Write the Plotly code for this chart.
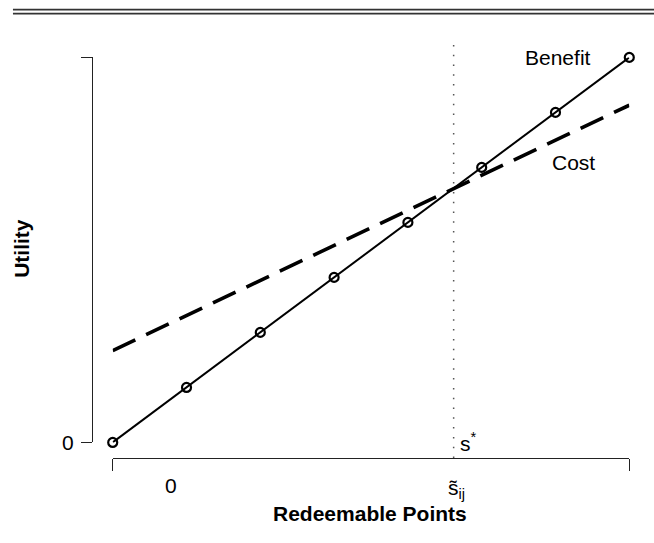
import plotly.graph_objects as go

# ---- data ----
points_x = [0, 1, 2, 3, 4, 5, 6, 7]
benefit = [0, 1, 2, 3, 4, 5, 6, 7]
cost_x = [0, 7]
cost = [1.67, 6.13]
s_star = 4.62
x_ticks = [0, 7]
y_ticks = [0, 7]
y_ticktext = ["0", ""]

FONT = "Liberation Sans, Arial, Helvetica, sans-serif"
W, H = 654, 543
L, R, T, B = 92, 4.3, 41.9, 84.7
pw = W - L - R
ph = H - T - B

def px2paper_x(px):
    return (px - L) / pw

def px2paper_y(py):
    return (H - B - py) / ph

xdom = [px2paper_x(112.7), px2paper_x(629.0)]
ydom = [px2paper_y(442.7), px2paper_y(57.3)]

fig = go.Figure()

fig.add_trace(go.Scatter(
    x=cost_x, y=cost, mode="lines",
    line=dict(color="black", width=3.6, dash="25px,12px"),
    cliponaxis=False, showlegend=False, hoverinfo="skip"))

fig.add_trace(go.Scatter(
    x=points_x, y=benefit, mode="lines+markers",
    line=dict(color="black", width=2),
    marker=dict(symbol="circle-open", size=9, color="black",
                line=dict(width=2.2, color="black")),
    cliponaxis=False, showlegend=False, hoverinfo="skip"))

# vertical dotted line at s*
fig.add_shape(type="line", xref="x", yref="paper",
              x0=s_star, x1=s_star, y0=0, y1=1,
              line=dict(color="#555555", width=1.5, dash="1.5px,8.3px"))

# top double rule
for ypx in (9.5, 13.5):
    fig.add_shape(type="line", xref="paper", yref="paper",
                  x0=px2paper_x(13), x1=px2paper_x(656),
                  y0=px2paper_y(ypx), y1=px2paper_y(ypx),
                  line=dict(color="#333333", width=1.6))

ann = [
    dict(text="Benefit", x=px2paper_x(558), y=px2paper_y(57), xref="paper", yref="paper",
         font=dict(size=21)),
    dict(text="Cost", x=6.24, y=5.08, xref="x", yref="y",
         font=dict(size=21)),
    dict(text="s<sup>*</sup>", x=4.82, y=px2paper_y(442), xref="x", yref="paper",
         font=dict(size=21)),
    dict(text="0", x=0.79, y=px2paper_y(486), xref="x", yref="paper",
         font=dict(size=21)),
    dict(text="s\u0303<sub>ij</sub>", x=s_star + 0.04, y=px2paper_y(489), xref="x", yref="paper",
         font=dict(size=21)),
    dict(text="<b>Redeemable Points</b>", x=px2paper_x(370), y=px2paper_y(514),
         xref="paper", yref="paper", font=dict(size=21)),
    dict(text="<b>Utility</b>", x=px2paper_x(22), y=px2paper_y(248),
         xref="paper", yref="paper", textangle=-90, font=dict(size=21)),
]
for a in ann:
    a.update(showarrow=False, xanchor="center", yanchor="middle")
    fig.add_annotation(**a)

fig.update_layout(
    width=W, height=H,
    margin=dict(l=L, r=R, t=T, b=B, pad=0),
    paper_bgcolor="white", plot_bgcolor="white",
    font=dict(family=FONT, color="black", size=21),
    xaxis=dict(domain=xdom, range=[0, 7], anchor="free", position=0,
               showgrid=False, zeroline=False, showline=True,
               linecolor="#222222", linewidth=1.2,
               tickmode="array", tickvals=x_ticks, ticks="outside",
               ticklen=12, tickwidth=1.2, tickcolor="#222222",
               showticklabels=False),
    yaxis=dict(domain=ydom, range=[0, 7], anchor="free", position=0,
               showgrid=False, zeroline=False, showline=True,
               linecolor="#222222", linewidth=1.2,
               tickmode="array", tickvals=y_ticks, ticktext=y_ticktext,
               ticks="outside", ticklen=11, tickwidth=1.2, tickcolor="#222222",
               ticklabelstandoff=3,
               tickfont=dict(size=21)),
)

fig.write_html("out.html")
